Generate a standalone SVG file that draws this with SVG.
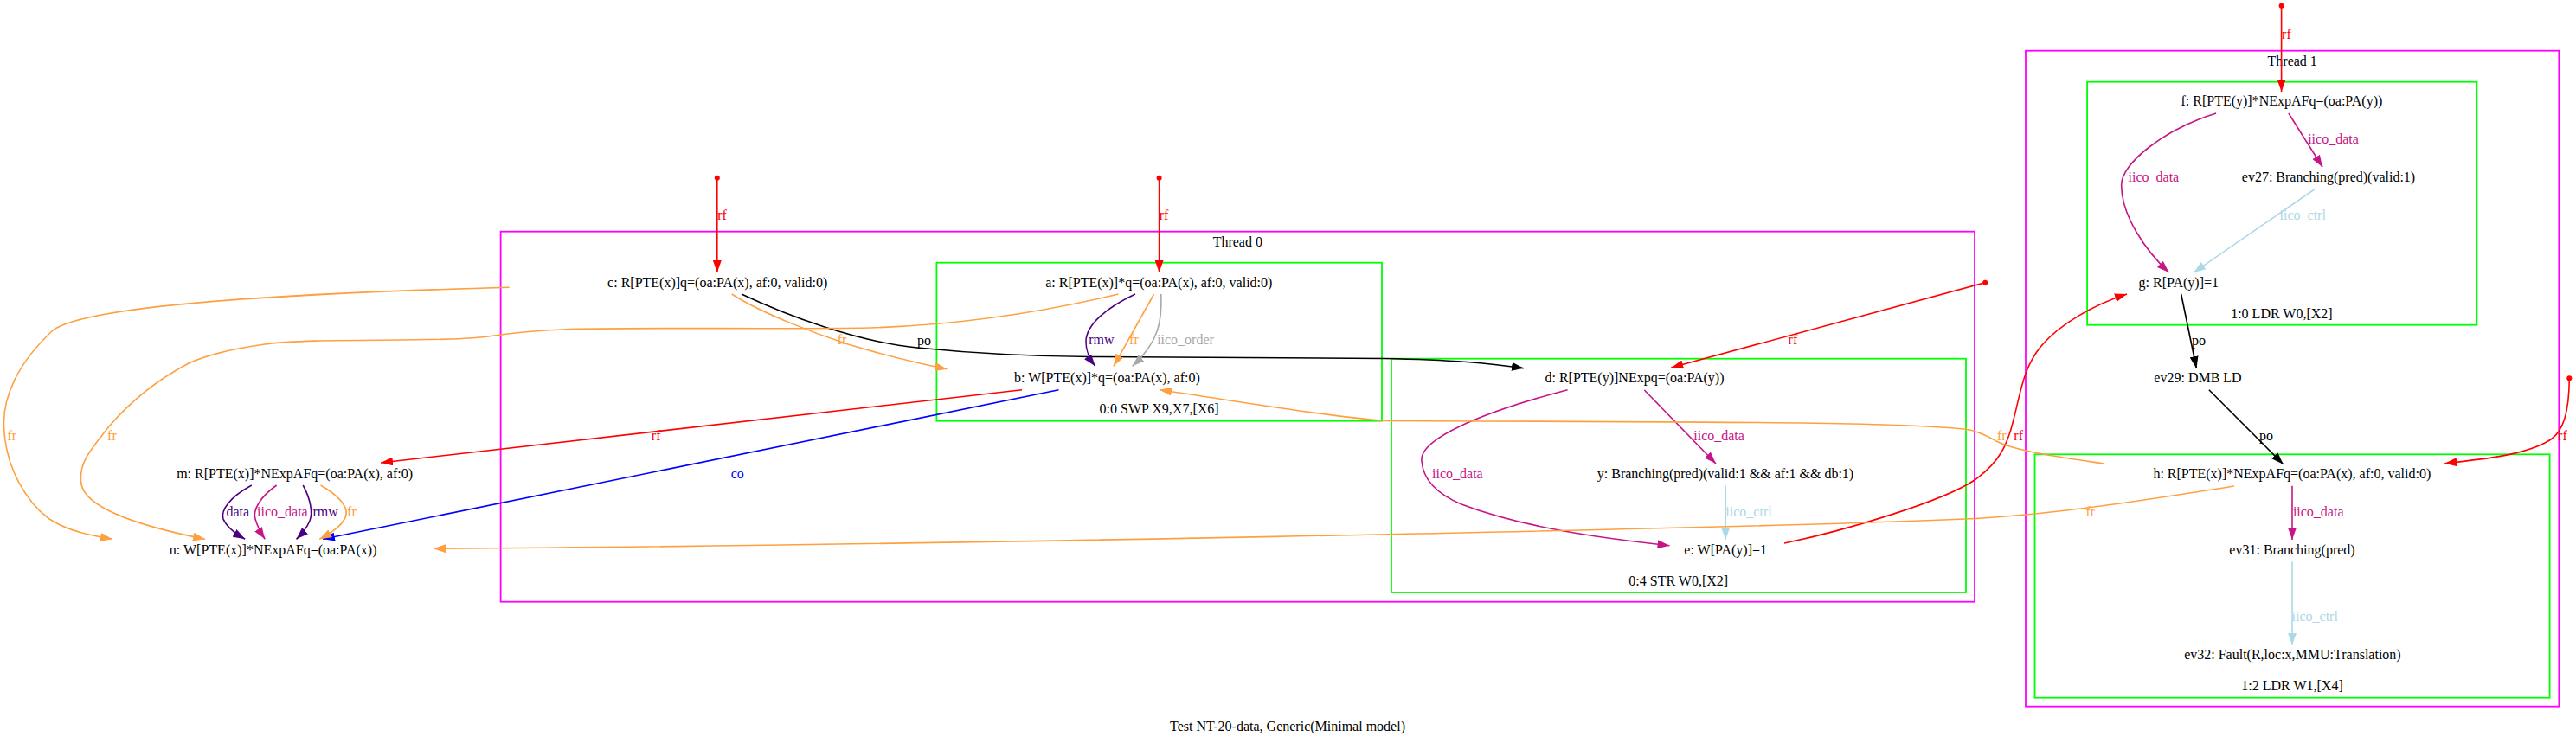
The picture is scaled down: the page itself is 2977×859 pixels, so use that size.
<svg xmlns="http://www.w3.org/2000/svg" width="2977" height="859" viewBox="0 0 2977 859">
<defs>
<style>
text{font-family:"Liberation Serif","Times New Roman",serif;font-size:16px;text-anchor:middle}
.e{fill:none;stroke-width:1.6}
.thr{fill:none;stroke:#ff00ff;stroke-width:1.8}
.ins{fill:none;stroke:#00ff00;stroke-width:1.8}
.red{stroke:#ff0000}.ora{stroke:#ffa040}.blk{stroke:#000000}.blu{stroke:#0000ff}.ind{stroke:#4b0082}.mag{stroke:#c71585}.lbl{stroke:#add8e6}.gry{stroke:#a9a9a9}
.tred{fill:#ff0000}.tora{fill:#ffa040}.tblk{fill:#000000}.tblu{fill:#0000ff}.tind{fill:#4b0082}.tmag{fill:#c71585}.tlbl{fill:#add8e6}.tgry{fill:#a9a9a9}
</style>
<marker id="ar" markerUnits="userSpaceOnUse" markerWidth="14" markerHeight="10" refX="14" refY="5" orient="auto"><path d="M0,0L14,5L0,10z" fill="#ff0000"/></marker>
<marker id="ao" markerUnits="userSpaceOnUse" markerWidth="14" markerHeight="10" refX="14" refY="5" orient="auto"><path d="M0,0L14,5L0,10z" fill="#ffa040"/></marker>
<marker id="ak" markerUnits="userSpaceOnUse" markerWidth="14" markerHeight="10" refX="14" refY="5" orient="auto"><path d="M0,0L14,5L0,10z" fill="#000000"/></marker>
<marker id="ab" markerUnits="userSpaceOnUse" markerWidth="14" markerHeight="10" refX="14" refY="5" orient="auto"><path d="M0,0L14,5L0,10z" fill="#0000ff"/></marker>
<marker id="ai" markerUnits="userSpaceOnUse" markerWidth="14" markerHeight="10" refX="14" refY="5" orient="auto"><path d="M0,0L14,5L0,10z" fill="#4b0082"/></marker>
<marker id="am" markerUnits="userSpaceOnUse" markerWidth="14" markerHeight="10" refX="14" refY="5" orient="auto"><path d="M0,0L14,5L0,10z" fill="#c71585"/></marker>
<marker id="al" markerUnits="userSpaceOnUse" markerWidth="14" markerHeight="10" refX="14" refY="5" orient="auto"><path d="M0,0L14,5L0,10z" fill="#add8e6"/></marker>
<marker id="ag" markerUnits="userSpaceOnUse" markerWidth="14" markerHeight="10" refX="14" refY="5" orient="auto"><path d="M0,0L14,5L0,10z" fill="#a9a9a9"/></marker>
</defs>
<rect width="2977" height="859" fill="#ffffff"/>

<g id="clusters">
<g id="thread0"><rect class="thr" x="578.6" y="267.7" width="1703.4" height="428"/><text x="1430.3" y="284.5">Thread 0</text></g>
<g id="thread1"><rect class="thr" x="2341" y="58.7" width="616.3" height="758"/><text x="2649.2" y="75.5">Thread 1</text></g>
<g id="instr00"><rect class="ins" x="1082.4" y="303.7" width="514.6" height="183"/><text x="1339.6" y="478">0:0 SWP X9,X7,[X6]</text></g>
<g id="instr04"><rect class="ins" x="1608" y="414.7" width="664" height="270.3"/><text x="1939.7" y="677">0:4 STR W0,[X2]</text></g>
<g id="instr10"><rect class="ins" x="2412.1" y="94.7" width="450.3" height="281"/><text x="2636.9" y="368">1:0 LDR W0,[X2]</text></g>
<g id="instr12"><rect class="ins" x="2351.5" y="525.3" width="595.1" height="281.4"/><text x="2649" y="798">1:2 LDR W1,[X4]</text></g>
</g>

<g id="connectors">
<!-- initial rf sources -->
<circle cx="828.8" cy="205.7" r="3" fill="#ff0000"/>
<path class="e red" d="M828.8,206L828.8,315" marker-end="url(#ar)"/>
<text class="tred" x="834.6" y="253.5">rf</text>
<circle cx="1339.6" cy="205.7" r="3" fill="#ff0000"/>
<path class="e red" d="M1339.6,206L1339.6,315" marker-end="url(#ar)"/>
<text class="tred" x="1345" y="253.5">rf</text>
<circle cx="2636.6" cy="6.7" r="3" fill="#ff0000"/>
<path class="e red" d="M2636.6,7L2636.6,106" marker-end="url(#ar)"/>
<text class="tred" x="2642.4" y="44.5">rf</text>
<circle cx="2294.2" cy="326.7" r="3" fill="#ff0000"/>
<path class="e red" d="M2294.2,326.7L1931.3,425" marker-end="url(#ar)"/>
<text class="tred" x="2071.9" y="397.5">rf</text>
<circle cx="2969.3" cy="437.3" r="3" fill="#ff0000"/>
<path class="e red" d="M2969.3,437.3C2969,478 2962,498 2948,508C2920,526 2870,531 2825.3,535.7" marker-end="url(#ar)"/>
<text class="tred" x="2961.4" y="508.5">rf</text>
<!-- e -> g rf -->
<path class="e red" d="M2062,628C2130,614 2245,580 2282,555C2310,535 2320,515 2327,485C2335,455 2338,425 2359,400C2380,375 2420,352 2458,340" marker-end="url(#ar)"/>
<text class="tred" x="2332.7" y="508.5">rf</text>
<!-- b -> m rf -->
<path class="e red" d="M1181,450.7L440,535" marker-end="url(#ar)"/>
<text class="tred" x="758.2" y="508.5">rf</text>
<!-- b -> n co -->
<path class="e blu" d="M1223.5,450.7L373,623.3" marker-end="url(#ab)"/>
<text class="tblu" x="852.3" y="553">co</text>
<!-- c -> b fr -->
<path class="e ora" d="M845.7,340C880,362 940,385 980,398C1020,410 1060,420 1094.4,426.7" marker-end="url(#ao)"/>
<text class="tora" x="973" y="397.5">fr</text>
<!-- c -> d po -->
<path class="e blk" d="M857,340C910,365 990,395 1060,402C1130,409 1200,412 1260,412.5L1600,414.5C1680,416 1720,420 1761,425.7" marker-end="url(#ak)"/>
<text class="tblk" x="1068" y="398.5">po</text>
<!-- c -> n fr (outer) -->
<path class="e ora" d="M588.6,332.3C450,336 110,346 61,382C20,420 3,460 4.6,493C6,540 30,580 57,600C80,615 110,620 130,623.3" marker-end="url(#ao)"/>
<text class="tora" x="13.8" y="508.5">fr</text>
<!-- a -> n fr -->
<path class="e ora" d="M1292.5,340C1230,355 1130,375 1006,379C900,381 720,378 650,381C600,383 580,387 555,390C500,396 360,390 306,398C270,403 240,410 218,420C180,440 150,465 126,493C105,520 90,535 94,560C100,590 170,610 237,623.3" marker-end="url(#ao)"/>
<text class="tora" x="129.4" y="508.5">fr</text>
<!-- a -> b -->
<path class="e ind" d="M1312,340C1280,355 1255,375 1255,395C1255,408 1260,416 1265.7,423.3" marker-end="url(#ai)"/>
<text class="tind" x="1272.9" y="397.5">rmw</text>
<path class="e ora" d="M1333.6,340L1287,423.3" marker-end="url(#ao)"/>
<text class="tora" x="1310.4" y="397.5">fr</text>
<path class="e gry" d="M1341.8,340C1343,370 1340,395 1308.6,423.3" marker-end="url(#ag)"/>
<text class="tgry" x="1370" y="397.5">iico_order</text>
<!-- m -> n -->
<path class="e ind" d="M290.8,561C265,575 255,590 258,600C262,610 272,617 283.2,623.3" marker-end="url(#ai)"/>
<text class="tind" x="274.8" y="597">data</text>
<path class="e mag" d="M319.6,561C300,575 292,590 295,600C298,610 302,617 306.2,623.3" marker-end="url(#am)"/>
<text class="tmag" x="326.4" y="597">iico_data</text>
<path class="e ind" d="M350.2,561C358,575 362,592 358,602C354,612 348,618 342.5,623.3" marker-end="url(#ai)"/>
<text class="tind" x="376.2" y="597">rmw</text>
<path class="e ora" d="M370.5,561C390,572 402,585 400,595C398,606 385,615 369.3,623.3" marker-end="url(#ao)"/>
<text class="tora" x="406.4" y="597">fr</text>
<!-- d -> y, d -> e, y -> e -->
<path class="e mag" d="M1900.4,451L1983,536" marker-end="url(#am)"/>
<text class="tmag" x="1986.6" y="508.5">iico_data</text>
<path class="e mag" d="M1811.6,450.7C1700,480 1640,510 1643,533C1645,560 1670,575 1689,583C1760,610 1850,622 1929.5,630.7" marker-end="url(#am)"/>
<text class="tmag" x="1684.4" y="553">iico_data</text>
<path class="e lbl" d="M1994.2,561.7L1994.2,624" marker-end="url(#al)"/>
<text class="tlbl" x="2021" y="597">iico_ctrl</text>
<!-- h -> b fr -->
<path class="e ora" d="M2431,536C2390,530 2330,522 2307,510C2290,500 2280,497 2270,496C2200,489 2100,488 1600,486.5C1520,480 1420,462 1340,450.7" marker-end="url(#ao)"/>
<text class="tora" x="2313.3" y="508.5">fr</text>
<!-- h -> n fr -->
<path class="e ora" d="M2582,562C2480,578 2380,594 2282,599.5C2000,612 1000,631 501,634.3" marker-end="url(#ao)"/>
<text class="tora" x="2415.8" y="597">fr</text>
<!-- thread 1 -->
<path class="e mag" d="M2644.9,131L2684.1,193.3" marker-end="url(#am)"/>
<text class="tmag" x="2696.5" y="166">iico_data</text>
<path class="e mag" d="M2561.1,131C2500,150 2450,190 2451.7,215C2452,250 2480,290 2506.6,315" marker-end="url(#am)"/>
<text class="tmag" x="2488.9" y="209.5">iico_data</text>
<path class="e lbl" d="M2674.6,219L2535.1,315" marker-end="url(#al)"/>
<text class="tlbl" x="2661.2" y="253.5">iico_ctrl</text>
<path class="e blk" d="M2520.7,340L2538.4,426" marker-end="url(#ak)"/>
<text class="tblk" x="2541" y="398.5">po</text>
<path class="e blk" d="M2552.9,450.7L2638.7,536.7" marker-end="url(#ak)"/>
<text class="tblk" x="2619" y="509">po</text>
<path class="e mag" d="M2649,561.7L2649,624" marker-end="url(#am)"/>
<text class="tmag" x="2679.2" y="597">iico_data</text>
<path class="e lbl" d="M2649,649.3L2649,745.7" marker-end="url(#al)"/>
<text class="tlbl" x="2675.2" y="718">iico_ctrl</text>
</g>

<g id="node_a"><text x="1339.3" y="332">a: R[PTE(x)]*q=(oa:PA(x), af:0, valid:0)</text></g>
<g id="node_b"><text x="1279.4" y="442">b: W[PTE(x)]*q=(oa:PA(x), af:0)</text></g>
<g id="node_c"><text x="829.2" y="332">c: R[PTE(x)]q=(oa:PA(x), af:0, valid:0)</text></g>
<g id="node_d"><text x="1889" y="442">d: R[PTE(y)]NExpq=(oa:PA(y))</text></g>
<g id="node_y"><text x="1994" y="552.5">y: Branching(pred)(valid:1 &amp;&amp; af:1 &amp;&amp; db:1)</text></g>
<g id="node_e"><text x="1994.2" y="641">e: W[PA(y)]=1</text></g>
<g id="node_m"><text x="340.6" y="553">m: R[PTE(x)]*NExpAFq=(oa:PA(x), af:0)</text></g>
<g id="node_n"><text x="315.7" y="641">n: W[PTE(x)]*NExpAFq=(oa:PA(x))</text></g>
<g id="node_f"><text x="2636.9" y="122">f: R[PTE(y)]*NExpAFq=(oa:PA(y))</text></g>
<g id="node_ev27"><text x="2691" y="209.5">ev27: Branching(pred)(valid:1)</text></g>
<g id="node_g"><text x="2517.8" y="332">g: R[PA(y)]=1</text></g>
<g id="node_ev29"><text x="2540" y="442">ev29: DMB LD</text></g>
<g id="node_h"><text x="2648.8" y="552.5">h: R[PTE(x)]*NExpAFq=(oa:PA(x), af:0, valid:0)</text></g>
<g id="node_ev31"><text x="2649" y="641">ev31: Branching(pred)</text></g>
<g id="node_ev32"><text x="2649.4" y="762">ev32: Fault(R,loc:x,MMU:Translation)</text></g>
<g id="title"><text x="1488" y="845">Test NT-20-data, Generic(Minimal model)</text></g>
</svg>
